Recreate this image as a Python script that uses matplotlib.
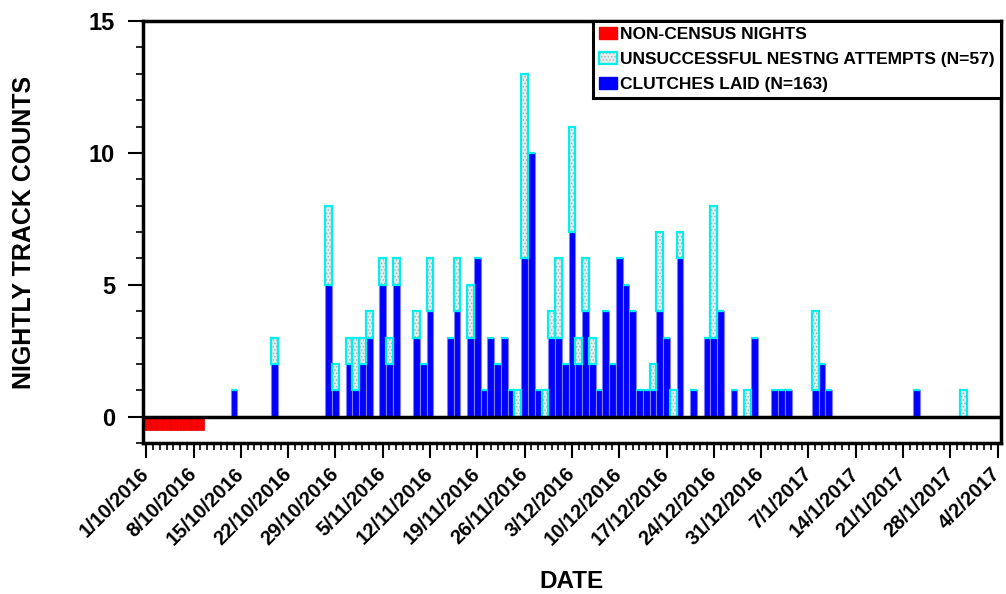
import numpy as np
import pandas as pd
import matplotlib
matplotlib.use('Agg')
import matplotlib.pyplot as plt
import matplotlib.dates as mdates
from matplotlib.patches import Patch
from matplotlib.legend_handler import HandlerTuple
from matplotlib.ticker import FixedLocator, MultipleLocator, FuncFormatter

plt.rcParams['font.family'] = ['Liberation Sans', 'DejaVu Sans']
plt.rcParams['font.weight'] = 'bold'
plt.rcParams['hatch.linewidth'] = 0.6

# nights with tracks recorded
nest_dates = ['14/10/2016', '20/10/2016', '28/10/2016', '29/10/2016', '31/10/2016',
              '1/11/2016', '2/11/2016', '3/11/2016', '5/11/2016', '6/11/2016',
              '7/11/2016', '10/11/2016', '11/11/2016', '12/11/2016', '15/11/2016',
              '16/11/2016', '18/11/2016', '19/11/2016', '20/11/2016', '21/11/2016',
              '22/11/2016', '23/11/2016', '24/11/2016', '25/11/2016', '26/11/2016',
              '27/11/2016', '28/11/2016', '29/11/2016', '30/11/2016', '1/12/2016',
              '2/12/2016', '3/12/2016', '4/12/2016', '5/12/2016', '6/12/2016',
              '7/12/2016', '8/12/2016', '9/12/2016', '10/12/2016', '11/12/2016',
              '12/12/2016', '13/12/2016', '14/12/2016', '15/12/2016', '16/12/2016',
              '17/12/2016', '18/12/2016', '19/12/2016', '21/12/2016', '23/12/2016',
              '24/12/2016', '25/12/2016', '27/12/2016', '29/12/2016', '30/12/2016',
              '2/1/2017', '3/1/2017', '4/1/2017', '8/1/2017', '9/1/2017',
              '10/1/2017', '23/1/2017', '30/1/2017']
clutches = [1, 2, 5, 1, 2,
            1, 2, 3, 5, 2,
            5, 3, 2, 4, 3,
            4, 3, 6, 1, 3,
            2, 3, 1, 0, 6,
            10, 1, 0, 3, 3,
            2, 7, 2, 4, 2,
            1, 4, 2, 6, 5,
            4, 1, 1, 1, 4,
            3, 0, 6, 1, 3,
            3, 4, 1, 0, 3,
            1, 1, 1, 1, 2,
            1, 1, 0]
unsuccessful = [0, 1, 3, 1, 1,
                2, 1, 1, 1, 1,
                1, 1, 0, 2, 0,
                2, 2, 0, 0, 0,
                0, 0, 0, 1, 7,
                0, 0, 1, 1, 3,
                0, 4, 1, 2, 1,
                0, 0, 0, 0, 0,
                0, 0, 0, 1, 3,
                0, 1, 1, 0, 0,
                5, 0, 0, 1, 0,
                0, 0, 0, 3, 0,
                0, 0, 1]

# nights with no census
noncensus_dates = ['1/10/2016', '2/10/2016', '3/10/2016', '4/10/2016', '5/10/2016',
                   '6/10/2016', '7/10/2016', '8/10/2016', '9/10/2016']
noncensus_level = -0.5

x = pd.to_datetime(nest_dates, dayfirst=True)
xn = pd.to_datetime(noncensus_dates, dayfirst=True)
clutches = np.array(clutches)
unsuccessful = np.array(unsuccessful)

fig = plt.figure(figsize=(10.06, 5.94), dpi=100)
ax = fig.add_axes([0.142, 0.2542, 0.853, 0.7104])

ax.bar(xn, [noncensus_level] * len(xn), width=1, color='#ff0000',
       edgecolor='#e00000', linewidth=0.5, zorder=2)
ax.bar(x, clutches, width=1, color='#0000ff', edgecolor='#7f7fff',
       linewidth=0.8, zorder=2)
ax.bar(x, unsuccessful, bottom=clutches, width=1, facecolor='#e4ecec',
       edgecolor='#9fb0b0', hatch='.....', linewidth=0, zorder=3)
ax.bar(x, unsuccessful, bottom=clutches, width=1, fill=False,
       edgecolor='#00f0f0', linewidth=1.6, zorder=4)

ax.axhline(0, color='black', linewidth=2.5, zorder=5)

start = pd.Timestamp('2016-10-01')
end = pd.Timestamp('2017-02-04')
ax.set_xlim(mdates.date2num(start) - 0.5, mdates.date2num(end) + 0.5)
ax.set_ylim(-1, 15)

weeks = pd.date_range(start, end, freq='7D')
ax.xaxis.set_major_locator(FixedLocator(mdates.date2num(weeks)))
ax.xaxis.set_minor_locator(mdates.DayLocator())
ax.xaxis.set_major_formatter(FuncFormatter(
    lambda v, pos: '{d.day}/{d.month}/{d.year}'.format(d=mdates.num2date(v))))
ax.yaxis.set_major_locator(MultipleLocator(5))
ax.yaxis.set_minor_locator(MultipleLocator(1))

for s in ax.spines.values():
    s.set_linewidth(2.5)
ax.tick_params(axis='both', which='major', direction='out', length=11, width=1.5)
ax.tick_params(axis='both', which='minor', direction='out', length=5, width=1.2)
ax.tick_params(axis='y', labelsize=17, pad=9)
ax.tick_params(axis='x', labelsize=14.5, pad=9)
plt.setp(ax.get_xticklabels(), rotation=45, ha='right', va='center',
         rotation_mode='anchor', fontweight='bold')
plt.setp(ax.get_yticklabels(), fontweight='bold')

ax.set_xlabel('DATE', fontsize=17.5, fontweight='bold', labelpad=15)
ax.set_ylabel('NIGHTLY TRACK COUNTS', fontsize=18, fontweight='bold', labelpad=38)

h_red = Patch(facecolor='#ff0000', edgecolor='#ff0000')
h_uns_fill = Patch(facecolor='#e4ecec', edgecolor='#9fb0b0', hatch='.....', linewidth=0)
h_uns_edge = Patch(fill=False, edgecolor='#00f0f0', linewidth=1.6)
h_blue = Patch(facecolor='#0000ff', edgecolor='#0000ff')
leg = ax.legend([h_red, (h_uns_fill, h_uns_edge), h_blue],
                ['NON-CENSUS NIGHTS', 'UNSUCCESSFUL NESTNG ATTEMPTS (N=57)',
                 'CLUTCHES LAID (N=163)'],
                handler_map={tuple: HandlerTuple(ndivide=1, pad=0)},
                loc='upper right', borderaxespad=0, fancybox=False,
                prop={'size': 12.5, 'weight': 'bold'},
                handlelength=1.0, handleheight=0.7, handletextpad=0.2,
                labelspacing=0.55, borderpad=0.35, framealpha=1)
leg.get_frame().set_edgecolor('black')
leg.get_frame().set_linewidth(2.2)
leg.set_zorder(10)

fig.savefig('out.png', dpi=100)
